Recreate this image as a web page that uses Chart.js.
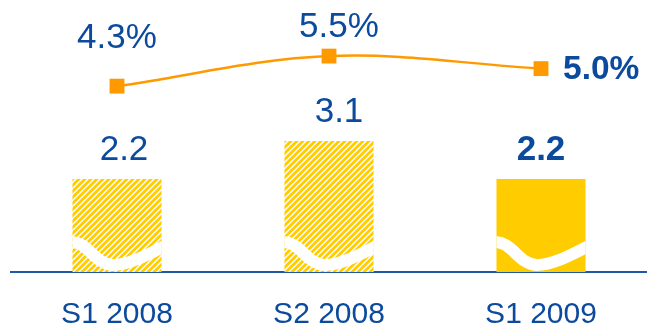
<!DOCTYPE html>
<html>
<head>
<meta charset="utf-8">
<script src="https://cdn.jsdelivr.net/npm/chart.js@4/dist/chart.umd.min.js"></script>
<style>
  html, body { margin: 0; padding: 0; background: #ffffff; }
  #wrap { width: 647px; height: 328px; }
</style>
</head>
<body>
<div id="wrap"><canvas id="chart" width="647" height="328"></canvas></div>
<script>
// Half-year periods
const periods = ['S1 2008', 'S2 2008', 'S1 2009'];
// Volume per period (bars)
const volumes = [2.2, 3.1, 2.2];
// Rate per period, in percent (line)
const rates = [4.3, 5.5, 5.0];
// Latest period is emphasised (solid bar, bold labels)
const emphasised = [false, false, true];

const BLUE = '#0B4A9C';
const AXIS_BLUE = '#1F58A6';
const YELLOW = '#FFCC00';
const ORANGE = '#FF9900';
const FONT = '"Liberation Sans", Arial, Helvetica, sans-serif';

// Diagonal yellow/white hatch for the earlier periods
function makeHatch() {
  const s = 6;
  const c = document.createElement('canvas');
  c.width = s; c.height = s;
  const g = c.getContext('2d');
  g.fillStyle = '#ffffff';
  g.fillRect(0, 0, s, s);
  g.strokeStyle = YELLOW;
  g.lineWidth = 2.8;
  g.beginPath();
  g.moveTo(-1, s + 1); g.lineTo(s + 1, -1);
  g.moveTo(-2, 2); g.lineTo(2, -2);
  g.moveTo(s - 2, s + 2); g.lineTo(s + 2, s - 2);
  g.stroke();
  return document.getElementById('chart').getContext('2d').createPattern(c, 'repeat');
}
const hatch = makeHatch();

// White wave across the foot of each bar (axis-break mark)
const breakMark = {
  id: 'breakMark',
  afterDatasetDraw(chart, args) {
    if (args.index !== 0) return;
    const ctx = chart.ctx;
    args.meta.data.forEach(bar => {
      const w = bar.width, left = bar.x - w / 2, right = bar.x + w / 2, base = bar.base;
      ctx.save();
      ctx.beginPath();
      ctx.rect(left, bar.y, w, base - bar.y);
      ctx.clip();
      ctx.strokeStyle = '#ffffff';
      ctx.lineWidth = 12;
      ctx.lineCap = 'butt';
      ctx.beginPath();
      ctx.moveTo(left - 3, base - 30);
      ctx.bezierCurveTo(left + 0.18 * w, base - 31, left + 0.24 * w, base - 8, left + 0.45 * w, base - 7);
      ctx.bezierCurveTo(left + 0.62 * w, base - 7, left + 0.82 * w, base - 16, right + 3, base - 26);
      ctx.stroke();
      ctx.restore();
    });
  }
};

// Value labels for bars and line points
const valueLabels = {
  id: 'valueLabels',
  afterDatasetsDraw(chart, args, opts) {
    const ctx = chart.ctx;
    const bars = chart.getDatasetMeta(0).data;
    const pts = chart.getDatasetMeta(1).data;
    ctx.save();
    ctx.fillStyle = BLUE;
    ctx.textBaseline = 'alphabetic';
    bars.forEach((bar, i) => {
      ctx.font = (emphasised[i] ? 'bold ' : '') + opts.size + 'px ' + FONT;
      ctx.textAlign = 'center';
      ctx.fillText(volumes[i].toFixed(1), bar.x + opts.barDx[i], bar.y - opts.barGap);
    });
    pts.forEach((p, i) => {
      const txt = rates[i].toFixed(1) + '%';
      if (emphasised[i]) {
        ctx.font = 'bold ' + opts.boldSize + 'px ' + FONT;
        ctx.textAlign = 'left';
        ctx.textBaseline = 'middle';
        ctx.fillText(txt, p.x + opts.sideGap, p.y + 1);
        ctx.textBaseline = 'alphabetic';
      } else {
        ctx.font = opts.size + 'px ' + FONT;
        ctx.textAlign = 'center';
        ctx.fillText(txt, p.x + opts.pointDx[i], p.y - opts.pointRise[i]);
      }
    });
    ctx.restore();
  }
};

new Chart(document.getElementById('chart'), {
  data: {
    labels: periods,
    datasets: [
      {
        type: 'bar',
        data: volumes,
        yAxisID: 'y',
        backgroundColor: emphasised.map(e => e ? YELLOW : hatch),
        borderWidth: 0,
        barPercentage: 0.42,
        categoryPercentage: 1,
        order: 2
      },
      {
        type: 'line',
        data: rates,
        yAxisID: 'y2',
        borderColor: ORANGE,
        borderWidth: 2.5,
        tension: 0.35,
        pointStyle: 'rect',
        pointRadius: 10.5,
        pointBackgroundColor: ORANGE,
        pointBorderWidth: 0,
        clip: false,
        order: 1
      }
    ]
  },
  options: {
    responsive: false,
    animation: false,
    devicePixelRatio: 1,
    layout: { autoPadding: false, padding: { top: 10, left: 11, right: 0, bottom: -28.5 } },
    plugins: {
      legend: { display: false },
      tooltip: { enabled: false },
      valueLabels: {
        size: 35,
        boldSize: 33.5,
        barGap: 19,
        barDx: [7, 10, 0],
        pointDx: [0, 10, 0],
        pointRise: [38, 19, 0],
        sideGap: 22
      }
    },
    scales: {
      x: {
        type: 'category',
        offset: true,
        grid: { display: false, drawTicks: false },
        border: { display: true, color: AXIS_BLUE, width: 2 },
        ticks: {
          color: BLUE,
          padding: 28,
          font: { family: FONT, size: 30, lineHeight: 0.95 }
        },
        // labels sit well inside their categories, no edge padding needed
        afterFit(scale) { scale.paddingLeft = 0; scale.paddingRight = 0; }
      },
      y: { display: false, min: 0, max: 6.2 },
      y2: { display: false, position: 'right', min: -3.12, max: 7.34 }
    }
  },
  plugins: [breakMark, valueLabels]
});
</script>
</body>
</html>
